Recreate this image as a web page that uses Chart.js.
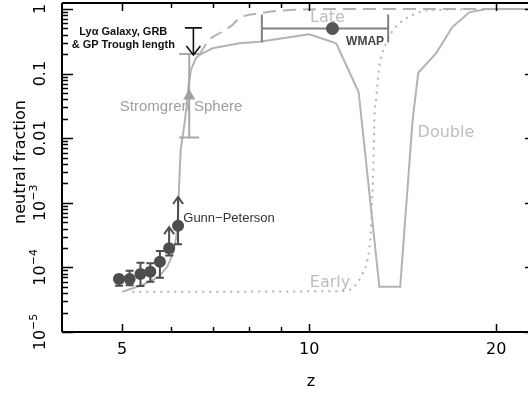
<!DOCTYPE html>
<html>
<head>
<meta charset="utf-8">
<script src="https://cdn.jsdelivr.net/npm/chart.js@4.4.0/dist/chart.umd.min.js"></script>
<style>
  html, body { margin: 0; padding: 0; background: #fff; overflow: hidden; }
  canvas { display: block; }
</style>
</head>
<body>
<canvas id="chart" width="528" height="395" style="width:528px;height:395px"></canvas>
<script>
// Gunn-Peterson quasar measurements
const gpZ = [4.94, 5.14, 5.35, 5.55, 5.75, 5.95, 6.15];
const gpF = [6.6e-5, 6.6e-5, 7.9e-5, 8.6e-5, 1.22e-4, 1.98e-4, 4.4e-4];
const gpLo = [5.2e-5, 5.3e-5, 5.15e-5, 6.0e-5, 6.9e-5, 1.53e-4, 2.28e-4];
const gpHi = [7.6e-5, 8.9e-5, 1.18e-4, 1.16e-4, 1.79e-4, 4.2e-4, 1.23e-3];
const gpIsLimit = [false, false, false, false, false, true, true];

// Stromgren sphere
const stromZ = [6.41];
const stromF = [0.045];
const stromLo = [0.0103];
const stromHi = [0.201];

// Lya galaxy / GRB / GP trough upper limit
const lyaZ = 6.51;
const lyaTop = 0.51;
const lyaTip = 0.194;

// WMAP
const wmapZ = [10.9];
const wmapF = [0.50];
const wmapZLo = 8.39;
const wmapZHi = 13.4;

// model histories
const doubleZ = [5.00, 5.39, 5.73, 5.91, 6.04, 6.11, 6.15, 6.18, 6.21, 6.31, 6.39, 6.45, 6.57, 6.65, 6.99, 7.72, 8.31, 10.0, 11.05, 12.01, 12.97, 14.01, 14.67, 14.98, 16.0, 17.0, 18.1, 19.3, 23.1];
const doubleF = [4.2e-5, 5.35e-5, 7.2e-5, 1.03e-4, 1.67e-4, 2.98e-4, 6.95e-4, 2.25e-3, 6.56e-3, 0.0191, 0.0627, 0.114, 0.173, 0.194, 0.247, 0.296, 0.312, 0.406, 0.294, 0.052, 5.0e-5, 5.0e-5, 0.0191, 0.103, 0.206, 0.526, 0.889, 1.0, 1.0];
const lateZ = [6.65, 6.90, 7.24, 7.52, 7.72, 8.31, 9.29, 11.18, 23.1];
const lateF = [0.194, 0.331, 0.446, 0.565, 0.718, 0.857, 0.966, 1.0, 1.0];
const earlyZ = [5.19, 11.3, 11.81, 12.19, 12.41, 12.57, 12.62, 12.68, 12.73, 12.81, 12.97, 13.29, 13.54, 13.96, 14.67, 15.61, 23.1];
const earlyF = [4.2e-5, 4.3e-5, 5.0e-5, 8.1e-5, 1.3e-4, 3.8e-4, 9.8e-4, 3.2e-3, 0.0191, 0.039, 0.128, 0.294, 0.42, 0.60, 0.807, 0.966, 1.0];

// axes
const xTicks = [5, 6, 7, 8, 9, 10, 20];
const xTickLabels = ['5', '', '', '', '', '10', '20'];
const yTicks = [1, 0.1, 0.01, 1e-3, 1e-4, 1e-5];
const yTickBase = ['1', '0.1', '0.01', '10', '10', '10'];
const yTickExp = ['', '', '', '\u22123', '\u22124', '\u22125'];

const CURVE_GRAY = '#b3b3b3';
const DARK = '#4d4d4d';

function pts(xs, ys) {
  return xs.map((x, i) => ({ x: x, y: ys[i] }));
}

function vArrow(ctx, x, yTip, dir, half, len) {
  // dir = -1 tip up, +1 tip down
  ctx.beginPath();
  ctx.moveTo(x - half, yTip - dir * len);
  ctx.lineTo(x, yTip);
  ctx.lineTo(x + half, yTip - dir * len);
  ctx.stroke();
}

const overlay = {
  id: 'overlay',
  beforeDatasetDraw(chart, args) {
    if (args.index !== 2) return;
    const ctx = chart.ctx;
    const xs = chart.scales.x, ys = chart.scales.y;
    ctx.save();
    ctx.lineCap = 'butt';

    // Stromgren bar
    ctx.strokeStyle = '#a8a8a8';
    ctx.lineWidth = 2;
    stromZ.forEach((z, i) => {
      const px = xs.getPixelForValue(z);
      const lo = ys.getPixelForValue(stromLo[i]);
      const hi = ys.getPixelForValue(stromHi[i]);
      ctx.beginPath();
      ctx.moveTo(px, lo); ctx.lineTo(px, hi);
      ctx.moveTo(px - 10, lo); ctx.lineTo(px + 10, lo);
      ctx.moveTo(px - 10, hi); ctx.lineTo(px + 10, hi);
      ctx.stroke();
    });

    // WMAP bar
    ctx.strokeStyle = '#808080';
    const wy = ys.getPixelForValue(wmapF[0]);
    const wl = xs.getPixelForValue(wmapZLo), wr = xs.getPixelForValue(wmapZHi);
    ctx.beginPath();
    ctx.moveTo(wl, wy); ctx.lineTo(wr, wy);
    ctx.moveTo(wl, wy - 14); ctx.lineTo(wl, wy + 14);
    ctx.moveTo(wr, wy - 14); ctx.lineTo(wr, wy + 14);
    ctx.stroke();

    // Lya upper limit
    ctx.strokeStyle = '#111';
    ctx.lineWidth = 1.6;
    const lx = xs.getPixelForValue(lyaZ);
    const lt = ys.getPixelForValue(lyaTop), lb = ys.getPixelForValue(lyaTip);
    ctx.beginPath();
    ctx.moveTo(lx - 8.5, lt); ctx.lineTo(lx + 8.5, lt);
    ctx.moveTo(lx, lt); ctx.lineTo(lx, lb);
    ctx.stroke();
    vArrow(ctx, lx, lb, 1, 7, 9);

    // Gunn-Peterson error bars
    ctx.strokeStyle = DARK;
    ctx.lineWidth = 2;
    gpZ.forEach((z, i) => {
      const px = xs.getPixelForValue(z);
      const lo = ys.getPixelForValue(gpLo[i]);
      const hi = ys.getPixelForValue(gpHi[i]);
      ctx.beginPath();
      ctx.moveTo(px, lo); ctx.lineTo(px, hi);
      ctx.moveTo(px - 4, lo); ctx.lineTo(px + 4, lo);
      if (!gpIsLimit[i]) { ctx.moveTo(px - 4, hi); ctx.lineTo(px + 4, hi); }
      ctx.stroke();
      if (gpIsLimit[i]) vArrow(ctx, px, hi, -1, 5, 7);
    });
    ctx.restore();
  },
  afterDatasetsDraw(chart) {
    const ctx = chart.ctx;
    const xs = chart.scales.x, ys = chart.scales.y;
    const a = chart.chartArea;
    // right axis sits just past the edge of the picture
    const rightAxis = a.right + 8;
    ctx.save();

    // frame
    ctx.strokeStyle = '#000';
    ctx.lineWidth = 2;
    ctx.beginPath();
    ctx.moveTo(a.left, a.top); ctx.lineTo(a.right, a.top);
    ctx.moveTo(a.left, a.top); ctx.lineTo(a.left, a.bottom);
    ctx.moveTo(a.left, a.bottom); ctx.lineTo(a.right, a.bottom);
    ctx.stroke();

    // y ticks
    ctx.lineWidth = 1.5;
    ctx.beginPath();
    for (let d = -5; d <= 0; d++) {
      for (let m = 1; m < 10; m++) {
        const v = m * Math.pow(10, d);
        if (v > ys.max) break;
        const py = Math.round(ys.getPixelForValue(v)) + 0.5;
        const len = m === 1 ? 11 : 6;
        ctx.moveTo(a.left, py); ctx.lineTo(a.left + len, py);
        ctx.moveTo(rightAxis, py); ctx.lineTo(rightAxis - len, py);
      }
    }
    // x ticks
    xTicks.forEach((v, i) => {
      const px = Math.round(xs.getPixelForValue(v)) + 0.5;
      const len = xTickLabels[i] ? 8 : 5;
      ctx.moveTo(px, a.bottom); ctx.lineTo(px, a.bottom - len);
      ctx.moveTo(px, a.top); ctx.lineTo(px, a.top + len);
    });
    ctx.stroke();

    // x tick labels
    ctx.fillStyle = '#000';
    ctx.font = '16px "DejaVu Sans"';
    ctx.textAlign = 'center';
    ctx.textBaseline = 'middle';
    xTicks.forEach((v, i) => {
      if (xTickLabels[i]) ctx.fillText(xTickLabels[i], xs.getPixelForValue(v), 350);
    });
    ctx.fillText('z', 311, 382);

    // y tick labels (rotated)
    yTicks.forEach((v, i) => {
      const py = ys.getPixelForValue(v);
      ctx.save();
      ctx.translate(41, py);
      ctx.rotate(-Math.PI / 2);
      ctx.textAlign = 'left';
      ctx.textBaseline = 'middle';
      ctx.font = '16px "DejaVu Sans"';
      const bw = ctx.measureText(yTickBase[i]).width;
      ctx.font = '11px "DejaVu Sans"';
      const ew = yTickExp[i] ? ctx.measureText(yTickExp[i]).width : 0;
      const start = -(bw + ew) / 2;
      ctx.font = '16px "DejaVu Sans"';
      ctx.fillText(yTickBase[i], start, 0);
      if (yTickExp[i]) {
        ctx.font = '11px "DejaVu Sans"';
        ctx.fillText(yTickExp[i], start + bw, -7);
      }
      ctx.restore();
    });

    // y title
    ctx.save();
    ctx.translate(21, 162);
    ctx.rotate(-Math.PI / 2);
    ctx.textAlign = 'center';
    ctx.textBaseline = 'middle';
    ctx.font = '16px "DejaVu Sans"';
    ctx.fillText('neutral fraction', 0, 0);
    ctx.restore();

    // annotations
    const at = (z, f) => [xs.getPixelForValue(z), ys.getPixelForValue(f)];
    ctx.textBaseline = 'middle';
    ctx.textAlign = 'center';
    ctx.fillStyle = '#bdbdbd';
    ctx.font = '16px "DejaVu Sans"';
    let p = at(10.7, 0.74); ctx.fillText('Late', p[0], p[1]);
    p = at(16.6, 0.012); ctx.fillText('Double', p[0], p[1]);
    p = at(10.8, 5.7e-5); ctx.fillText('Early', p[0], p[1]);

    ctx.fillStyle = '#9e9e9e';
    ctx.font = '15px "Liberation Sans"';
    p = at(6.22, 0.0304); ctx.fillText('Stromgren Sphere', p[0], p[1]);

    ctx.fillStyle = '#111';
    ctx.font = 'bold 11px "Liberation Sans"';
    p = at(5.02, 0.44); ctx.fillText('Ly\u03b1 Galaxy, GRB', p[0], p[1]);
    p = at(5.02, 0.277); ctx.fillText('& GP Trough length', p[0], p[1]);

    ctx.fillStyle = '#444';
    ctx.font = 'bold 12px "Liberation Sans"';
    p = at(12.3, 0.308); ctx.fillText('WMAP', p[0], p[1]);

    ctx.fillStyle = '#333';
    ctx.textAlign = 'left';
    ctx.font = '13px "Liberation Sans"';
    p = at(6.27, 5.8e-4); ctx.fillText('Gunn\u2212Peterson', p[0], p[1]);

    ctx.restore();
  }
};

new Chart(document.getElementById('chart'), {
  type: 'scatter',
  data: {
    datasets: [
      {
        label: 'Gunn-Peterson',
        data: pts(gpZ, gpF),
        backgroundColor: DARK,
        borderColor: DARK,
        pointRadius: 6,
        borderWidth: 0,
        showLine: false,
      },
      {
        label: 'WMAP',
        data: pts(wmapZ, wmapF),
        backgroundColor: '#555',
        borderColor: '#555',
        pointRadius: 6.5,
        borderWidth: 0,
        showLine: false,
      },
      {
        label: 'Stromgren Sphere',
        data: pts(stromZ, stromF),
        pointStyle: 'triangle',
        backgroundColor: '#a0a0a0',
        borderColor: '#a0a0a0',
        pointRadius: 7,
        borderWidth: 0,
        showLine: false,
      },
      {
        label: 'Double',
        data: pts(doubleZ, doubleF),
        showLine: true,
        borderColor: CURVE_GRAY,
        borderWidth: 2,
        pointRadius: 0,
        tension: 0,
      },
      {
        label: 'Late',
        data: pts(lateZ, lateF),
        showLine: true,
        borderColor: CURVE_GRAY,
        borderWidth: 2,
        borderDash: [13, 7],
        pointRadius: 0,
        cubicInterpolationMode: 'monotone',
      },
      {
        label: 'Early',
        data: pts(earlyZ, earlyF),
        showLine: true,
        borderColor: CURVE_GRAY,
        borderWidth: 2,
        borderDash: [2, 5],
        pointRadius: 0,
        cubicInterpolationMode: 'monotone',
      },
    ],
  },
  options: {
    responsive: false,
    animation: false,
    layout: { autoPadding: false, padding: { left: 62, top: 3, right: 0, bottom: 63 } },
    plugins: {
      legend: { display: false },
      tooltip: { enabled: false },
    },
    scales: {
      x: { type: 'logarithmic', min: 4, max: 22.5, display: false },
      y: { type: 'logarithmic', min: 1e-5, max: 1.24, display: false },
    },
  },
  plugins: [overlay],
});
</script>
</body>
</html>
